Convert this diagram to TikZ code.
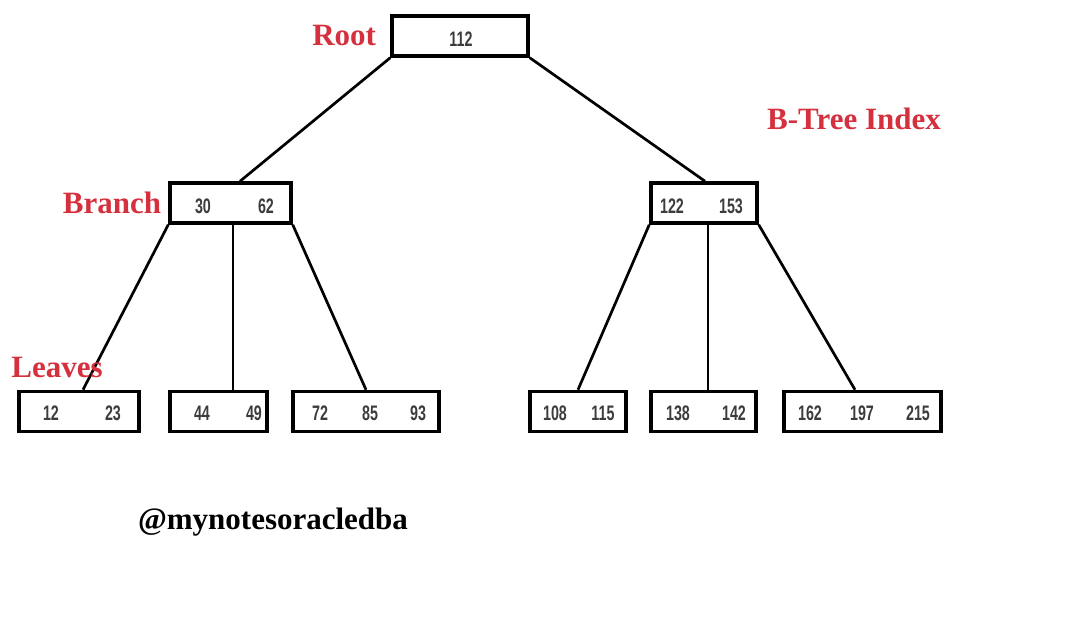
\documentclass[tikz,border=0pt]{standalone}
\usepackage{fontspec}
\setmainfont{Liberation Serif}
\setsansfont{Liberation Sans}
\usetikzlibrary{positioning}
\definecolor{labelred}{RGB}{212,48,62}
\definecolor{keygray}{RGB}{60,60,60}
\newcommand{\narrownum}[1]{\scalebox{0.68}[1]{#1}}

\begin{document}
\begin{tikzpicture}[
  x=1pt, y=-1pt,
  keybox/.style={draw, line width=3.5pt, minimum height=40pt, inner sep=0pt, fill=white},
  keytext/.style={font=\sffamily\bfseries\fontsize{21}{21}\selectfont, text=keygray, inner sep=0pt},
  levelname/.style={font=\bfseries\fontsize{31}{31}\selectfont, text=labelred, inner sep=0pt},
  link/.style={line width=2.7pt}
]
\useasboundingbox (0,0) rectangle (1072,631);

% boxes
\node[keybox, minimum width=136] (root) at (460,36) {};
\node[keybox, minimum width=121] (bl) at (230.5,203) {};
\node[keybox, minimum width=106] (br) at (704,203) {};
\node[keybox, minimum width=120] (l1) at (79,411.5) {};
\node[keybox, minimum width=97] (l2) at (218.5,411.5) {};
\node[keybox, minimum width=146] (l3) at (366,411.5) {};
\node[keybox, minimum width=96] (l4) at (578,411.5) {};
\node[keybox, minimum width=105] (l5) at (703.5,411.5) {};
\node[keybox, minimum width=157] (l6) at (862.5,411.5) {};

% keys
\node[keytext] (k112) at (461,39) {\narrownum{112}};
\foreach \k/\x in {30/203, 62/266, 122/672, 153/731}
  \node[keytext] (k\k) at (\x,206) {\narrownum{\k}};
\foreach \k/\x in {12/51, 23/113, 44/202, 49/254, 72/320, 85/370, 93/418,
                   108/555, 115/603, 138/678, 142/734, 162/810, 197/862, 215/918}
  \node[keytext] (k\k) at (\x,413) {\narrownum{\k}};

% links
\draw[link] (root.south west) -- ([xshift=9.5]bl.north);
\draw[link] (root.south east) -- ([xshift=1]br.north);
\draw[link] (bl.south west) -- ([xshift=4]l1.north);
\draw[link] ([xshift=2.5]bl.south) -- ([xshift=14.5]l2.north);
\draw[link] (bl.south east) -- (l3.north);
\draw[link] (br.south west) -- (l4.north);
\draw[link] ([xshift=4]br.south) -- ([xshift=4.5]l5.north);
\draw[link] (br.south east) -- ([xshift=-7.5]l6.north);

% level names
\node[levelname, left=14pt of root] (rootname) {Root};
\node[levelname, left=7pt of bl] (branchname) {Branch};
\node[levelname] (leavesname) at (57,368) {Leaves};
\node[levelname] (title) at (854,119) {B-Tree Index};
\node[levelname, text=black] (handle) at (273,522) {@mynotesoracledba};
\end{tikzpicture}
\end{document}
